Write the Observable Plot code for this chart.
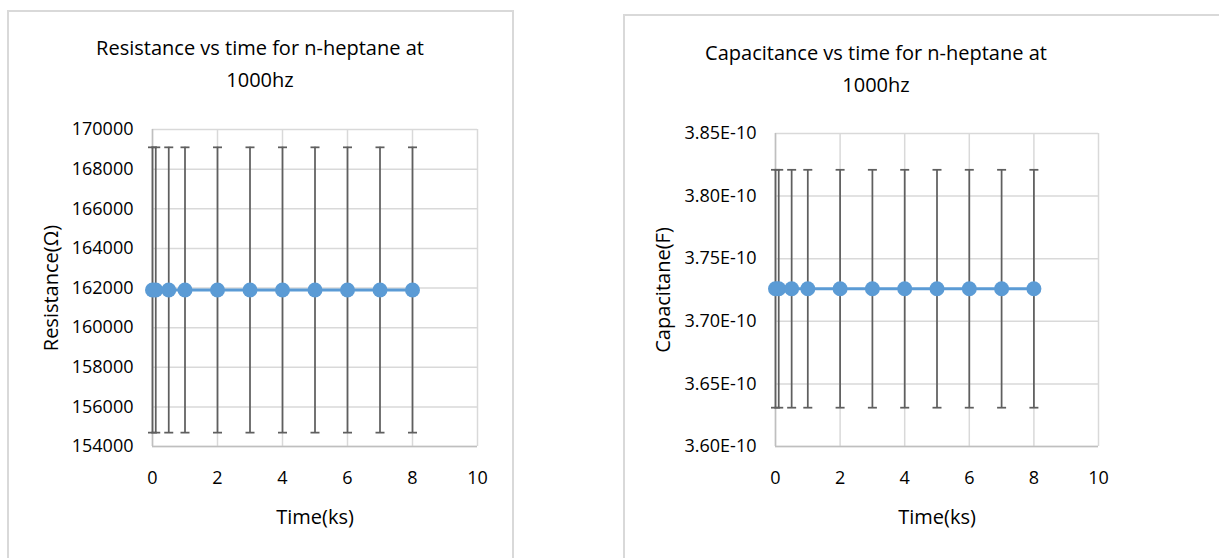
<!DOCTYPE html>
<html>
<head>
<meta charset="utf-8">
<script src="https://cdn.jsdelivr.net/npm/d3@7"></script>
<script src="https://cdn.jsdelivr.net/npm/@observablehq/plot@0.6"></script>
<style>
  html, body { margin: 0; padding: 0; background: #fff; }
  #page { position: relative; width: 1219px; height: 558px; overflow: hidden; font-family: "Open Sans", sans-serif; }
  .panel { position: absolute; border: 2px solid #d9d9d9; box-sizing: border-box; }
  .title { position: absolute; text-align: center; font-size: 20px; line-height: 32px; color: #000; white-space: nowrap; transform: translateX(-50%); }
  .plot { position: absolute; top: 0; }
</style>
</head>
<body>
<div id="page">
  <div class="panel" style="left:7px; top:10px; width:507px; height:600px;"></div>
  <div class="panel" style="left:623px; top:14px; width:620px; height:600px;"></div>
  <div class="title" style="left:260px; top:32px;">Resistance vs time for n-heptane at<br>1000hz</div>
  <div class="title" style="left:876px; top:37px;">Capacitance vs time for n-heptane at<br>1000hz</div>
  <div class="plot" id="left" style="left:0px;"></div>
  <div class="plot" id="right" style="left:600px;"></div>
</div>
<script>
// ---- data ----
const timeKs = [0, 0.1, 0.5, 1, 2, 3, 4, 5, 6, 7, 8];
const resistance = [161900, 161900, 161900, 161900, 161900, 161900, 161900, 161900, 161900, 161900, 161900];
const resistanceErr = [7200, 7200, 7200, 7200, 7200, 7200, 7200, 7200, 7200, 7200, 7200];
const capacitance = [3.726e-10, 3.726e-10, 3.726e-10, 3.726e-10, 3.726e-10, 3.726e-10, 3.726e-10, 3.726e-10, 3.726e-10, 3.726e-10, 3.726e-10];
const capacitanceErr = [0.095e-10, 0.095e-10, 0.095e-10, 0.095e-10, 0.095e-10, 0.095e-10, 0.095e-10, 0.095e-10, 0.095e-10, 0.095e-10, 0.095e-10];
const xTicks = [0, 2, 4, 6, 8, 10];
const resTicks = [154000, 156000, 158000, 160000, 162000, 164000, 166000, 168000, 170000];
const capTicks = [3.60e-10, 3.65e-10, 3.70e-10, 3.75e-10, 3.80e-10, 3.85e-10];
const xLabel = "Time(ks)";
const resLabel = "Resistance(Ω)";
const capLabel = "Capacitane(F)";

const lineColor = "#5B9BD5";
const errColor = "#5f5f5f";

// horizontal cap symbol for error bars
const capSymbol = {
  draw(context, size) {
    const r = Math.sqrt(size / Math.PI);
    context.moveTo(-r, 0);
    context.lineTo(r, 0);
  }
};

function makeChart({values, errs, yTicks, yDomain, yLabel, tickFormat, width, height, margins, yLabelDx}) {
  const data = timeKs.map((t, i) => ({t, v: values[i], lo: values[i] - errs[i], hi: values[i] + errs[i]}));
  return Plot.plot({
    width, height,
    marginTop: margins[0], marginRight: margins[1], marginBottom: margins[2], marginLeft: margins[3],
    style: {fontFamily: "Open Sans", fontSize: "18px", color: "#000", background: "transparent", overflow: "visible"},
    x: {domain: [0, 10], ticks: xTicks, label: null},
    y: {domain: yDomain, ticks: yTicks, label: null, tickFormat},
    marks: [
      Plot.gridX(xTicks, {stroke: "#d9d9d9", strokeOpacity: 1, strokeWidth: 1.5}),
      Plot.gridY(yTicks, {stroke: "#d9d9d9", strokeOpacity: 1, strokeWidth: 1.5}),
      Plot.ruleX([0], {stroke: "#bfbfbf", strokeWidth: 1.5}),
      Plot.ruleY([yDomain[0]], {stroke: "#bfbfbf", strokeWidth: 1.5}),
      Plot.axisX(xTicks, {tickSize: 0, tickPadding: 25, fontSize: 18}),
      Plot.axisY(yTicks, {tickSize: 0, tickPadding: 19, tickFormat, fontSize: 18}),
      Plot.ruleX(data, {x: "t", y1: "lo", y2: "hi", stroke: errColor, strokeWidth: 1.75}),
      Plot.dot(data, {x: "t", y: "hi", symbol: capSymbol, r: 4.5, stroke: errColor, strokeWidth: 1.75}),
      Plot.dot(data, {x: "t", y: "lo", symbol: capSymbol, r: 4.5, stroke: errColor, strokeWidth: 1.75}),
      Plot.line(data, {x: "t", y: "v", stroke: lineColor, strokeWidth: 3}),
      Plot.dot(data, {x: "t", y: "v", r: 7.5, fill: lineColor, stroke: "none"}),
      Plot.text([xLabel], {frameAnchor: "bottom", dy: 71, text: d => d, fontSize: 20, lineAnchor: "middle", fill: "#000"}),
      Plot.text([yLabel], {frameAnchor: "left", dx: yLabelDx, rotate: -90, text: d => d, fontSize: 20, lineAnchor: "middle", textAnchor: "middle", fill: "#000"})
    ]
  });
}

document.getElementById("left").appendChild(makeChart({
  values: resistance, errs: resistanceErr, yTicks: resTicks, yDomain: [154000, 170000],
  yLabel: resLabel, tickFormat: d => String(d),
  width: 520, height: 558, margins: [129, 43, 112, 152], yLabelDx: -101
}));

document.getElementById("right").appendChild(makeChart({
  values: capacitance, errs: capacitanceErr, yTicks: capTicks, yDomain: [3.60e-10, 3.85e-10],
  yLabel: capLabel, tickFormat: d => d.toExponential(2).toUpperCase(),
  width: 619, height: 558, margins: [133, 121, 112, 175], yLabelDx: -112
}));
</script>
</body>
</html>
